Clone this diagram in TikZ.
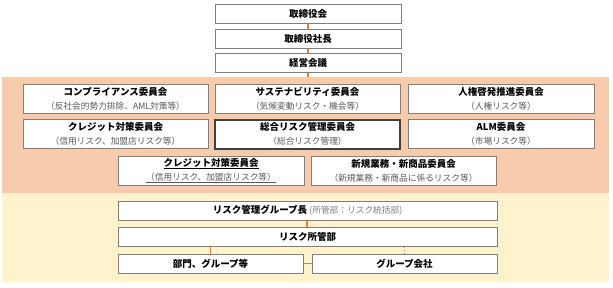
\documentclass[tikz,border=0pt]{standalone}
\usepackage{fontspec}
\setmainfont{Noto Sans CJK JP}
\usetikzlibrary{positioning}
\definecolor{peach}{HTML}{F8CBAD}
\definecolor{cream}{HTML}{FFF2CC}
\definecolor{conn}{HTML}{ED7D31}
\definecolor{bord}{HTML}{7F7F7F}
\definecolor{subg}{HTML}{595959}
\definecolor{darkb}{HTML}{404040}
\tikzset{
  bx/.style={draw=bord, line width=1pt, fill=white, inner sep=0pt, align=center,
    font=\fontsize{9.5}{14}\selectfont\bfseries},
  onebox/.style={bx, minimum height=19pt},
  twobox/.style={bx, minimum height=29pt},
  link/.style={draw=conn, line width=1.3pt},
}
\newcommand{\subt}[1]{{\fontsize{8.7}{14}\selectfont\mdseries\color{subg}#1}}
\newcommand{\myul}[1]{\setbox0\hbox{#1}\rlap{\raisebox{-2.2pt}{\rule{\wd0}{0.7pt}}}\box0}
\begin{document}
\begin{tikzpicture}[x=1pt,y=-1pt]
\useasboundingbox (0,0) rectangle (613,287);
\fill[peach] (2,77) rectangle (609,192.5);
\fill[cream] (2,192.5) rectangle (609,282);
% top chain
\node[onebox, minimum width=186pt] (t1) at (308,13.5) {取締役会};
\node[onebox, minimum width=186pt] (t2) at (308,38.5) {取締役社長};
\node[onebox, minimum width=186pt] (t3) at (308,62.5) {経営会議};
\coordinate (bandtop) at (308,77);
% committees
\node[twobox, minimum width=185pt] (c11) at (115.5,99) {コンプライアンス委員会\\\subt{（反社会的勢力排除、AML対策等）}};
\node[twobox, minimum width=185pt] (c12) at (307.5,99) {サステナビリティ委員会\\\subt{（気候変動リスク・機会等）}};
\node[twobox, minimum width=186pt] (c13) at (501,99) {人権啓発推進委員会\\\subt{（人権リスク等）}};
\node[twobox, minimum width=185pt] (c21) at (115.5,134) {クレジット対策委員会\\\subt{（信用リスク、加盟店リスク等）}};
\node[twobox, minimum width=185pt, draw=darkb, line width=2pt] (c22) at (307.5,134) {総合リスク管理委員会\\\subt{（総合リスク管理）}};
\node[twobox, minimum width=186pt] (c23) at (501,134) {ALM委員会\\\subt{（市場リスク等）}};
\node[twobox, minimum width=186pt] (c31) at (211,170.5) {\myul{クレジット対策委員会}\\\subt{\myul{（信用リスク、加盟店リスク等）}}};
\node[twobox, minimum width=185pt] (c32) at (403.5,170.5) {新規業務・新商品委員会\\\subt{（新規業務・新商品に係るリスク等）}};
% lower section
\node[onebox, minimum width=379pt] (gl) at (307.5,210.5) {リスク管理グループ長 {\mdseries\color{bord}\fontsize{8.7}{14}\selectfont (所管部：リスク統括部)}};
\node[onebox, minimum width=379pt] (sk) at (307.5,236.5) {リスク所管部};
\node[onebox, minimum width=185pt] (bu) at (210.5,263.5) {部門、グループ等};
\node[onebox, minimum width=185pt] (gc) at (404.5,263.5) {グループ会社};
% connectors
\draw[link] (t1) -- (t2);
\draw[link] (t2) -- (t3);
\draw[link] (t3) -- (bandtop);
\draw[link] (gl.south -| 307,0) -- (sk.north -| 307,0);
\draw[link] (sk.south -| bu.north) -- (bu.north);
\draw[link, dotted, line width=1.1pt] (sk.south -| gc.north) -- (gc.north);
\draw[link] (bu.east) -- (gc.west);
\end{tikzpicture}
\end{document}
